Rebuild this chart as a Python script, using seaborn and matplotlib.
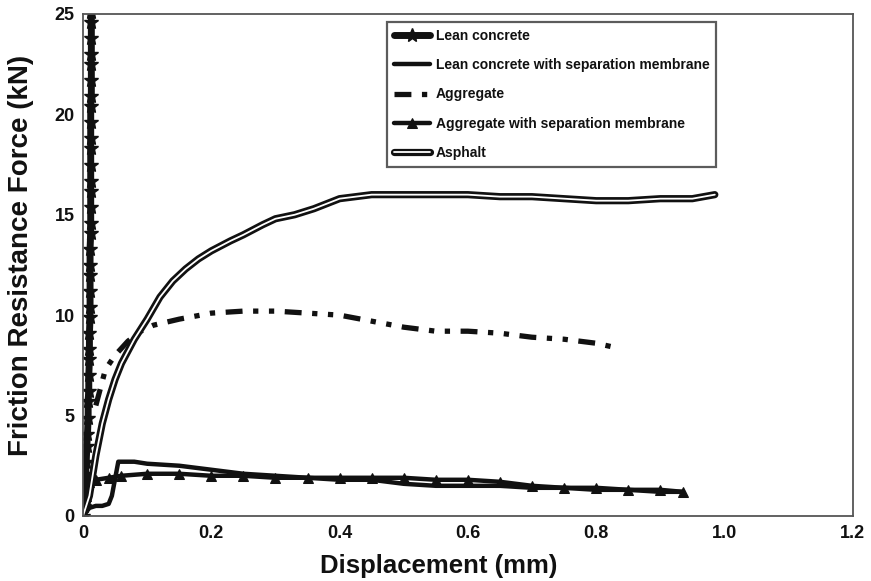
import matplotlib
matplotlib.use("Agg")
import matplotlib.pyplot as plt
import matplotlib.patheffects as pe
import seaborn as sns

# Displacement (mm) / friction resistance force (kN) for each interface
lean_x = [0.000, 0.001, 0.002, 0.003, 0.004, 0.005, 0.006, 0.007, 0.008, 0.008,
          0.009, 0.009, 0.010, 0.010, 0.010, 0.011, 0.011, 0.011, 0.011, 0.011,
          0.011, 0.012, 0.012, 0.012, 0.012, 0.012, 0.012, 0.012, 0.012, 0.012,
          0.012, 0.013, 0.013, 0.013, 0.013, 0.013, 0.013, 0.013, 0.013, 0.013]
lean_y = [0.0, 0.5, 1.0, 1.4, 2.1, 2.7, 3.5, 4.1, 4.9, 5.7, 6.2, 7.0, 7.8, 8.3,
          9.1, 9.9, 10.4, 11.2, 12.0, 12.5, 13.3, 14.1, 14.6, 15.4, 16.2, 16.7,
          17.5, 18.3, 18.8, 19.6, 20.4, 20.9, 21.7, 22.5, 23.0, 23.8, 24.6, 25.1,
          25.9, 26.7]

lean_mem_x = [0.000, 0.005, 0.010, 0.020, 0.030, 0.040, 0.045, 0.055, 0.080,
              0.100, 0.150, 0.200, 0.250, 0.300, 0.350, 0.400, 0.450, 0.500,
              0.550, 0.600, 0.650, 0.700, 0.750, 0.800, 0.850, 0.900, 0.935]
lean_mem_y = [0.0, 0.2, 0.4, 0.5, 0.5, 0.6, 1.0, 2.7, 2.7, 2.6, 2.5, 2.3, 2.1,
              2.0, 1.9, 1.8, 1.8, 1.6, 1.5, 1.5, 1.5, 1.4, 1.4, 1.3, 1.3, 1.2, 1.2]

agg_x = [0.020, 0.035, 0.050, 0.070, 0.090, 0.110, 0.150, 0.200, 0.250, 0.300,
         0.350, 0.400, 0.450, 0.500, 0.550, 0.600, 0.650, 0.700, 0.750, 0.800,
         0.828]
agg_y = [5.5, 7.3, 8.0, 8.7, 9.2, 9.5, 9.8, 10.1, 10.2, 10.2, 10.1, 10.0, 9.7,
         9.4, 9.2, 9.2, 9.1, 8.9, 8.8, 8.6, 8.4]

agg_mem_x = [0.000, 0.005, 0.010, 0.020, 0.040, 0.060, 0.100, 0.150, 0.200,
             0.250, 0.300, 0.350, 0.400, 0.450, 0.500, 0.550, 0.600, 0.650,
             0.700, 0.750, 0.800, 0.850, 0.900, 0.935]
agg_mem_y = [0.0, 1.0, 1.7, 1.8, 1.9, 2.0, 2.1, 2.1, 2.0, 2.0, 1.9, 1.9, 1.9,
             1.9, 1.9, 1.8, 1.8, 1.7, 1.5, 1.4, 1.4, 1.3, 1.3, 1.2]

asph_x = [0.000, 0.010, 0.020, 0.030, 0.040, 0.050, 0.060, 0.080, 0.100, 0.120,
          0.140, 0.160, 0.180, 0.200, 0.230, 0.250, 0.280, 0.300, 0.330, 0.360,
          0.400, 0.450, 0.500, 0.550, 0.600, 0.650, 0.700, 0.750, 0.800, 0.850,
          0.900, 0.950, 0.985]
asph_y = [0.0, 1.0, 3.0, 4.6, 5.8, 6.8, 7.6, 8.8, 9.8, 10.9, 11.7, 12.3, 12.8,
          13.2, 13.7, 14.0, 14.5, 14.8, 15.0, 15.3, 15.8, 16.0, 16.0, 16.0, 16.0,
          15.9, 15.9, 15.8, 15.7, 15.7, 15.8, 15.8, 16.0]

labels = ["Lean concrete", "Lean concrete with separation membrane", "Aggregate",
          "Aggregate with separation membrane", "Asphalt"]
x_ticks = [0, 0.2, 0.4, 0.6, 0.8, 1.0, 1.2]
x_tick_labels = ["0", "0.2", "0.4", "0.6", "0.8", "1.0", "1.2"]
y_ticks = [0, 5, 10, 15, 20, 25]

sns.set_style("white")
plt.rcParams["font.family"] = ["Liberation Sans", "DejaVu Sans"]
plt.rcParams["font.weight"] = "bold"

fig = plt.figure(figsize=(8.71, 5.81), dpi=100)
ax = fig.add_axes([0.0953, 0.112, 0.979 - 0.0953, 0.976 - 0.112])

ink = "#111111"
sns.lineplot(x=lean_x, y=lean_y, ax=ax, estimator=None, sort=False, color=ink,
             lw=5, marker="*", markersize=10, markeredgecolor=ink,
             markeredgewidth=1, label=labels[0])
sns.lineplot(x=lean_mem_x, y=lean_mem_y, ax=ax, estimator=None, sort=False,
             color=ink, lw=3.2, label=labels[1])
sns.lineplot(x=agg_x, y=agg_y, ax=ax, estimator=None, sort=False, color=ink,
             lw=3.8, linestyle=(0, (3.2, 2.0, 1.0, 2.0, 1.0, 2.0)), label=labels[2])
sns.lineplot(x=agg_mem_x, y=agg_mem_y, ax=ax, estimator=None, sort=False,
             color=ink, lw=3.2, marker="^", markersize=7, markeredgecolor=ink,
             label=labels[3])
sns.lineplot(x=asph_x, y=asph_y, ax=ax, estimator=None, sort=False, color="white",
             lw=1.3, label=labels[4],
             path_effects=[pe.Stroke(linewidth=5.2, foreground=ink), pe.Normal()])

ax.set_xlim(0, 1.2)
ax.set_ylim(0, 25)
ax.set_xticks(x_ticks)
ax.set_xticklabels(x_tick_labels)
ax.set_yticks(y_ticks)
ax.tick_params(axis="both", labelsize=13, width=1, color="#444444", pad=4,
               labelcolor=ink)
ax.tick_params(axis="x", direction="inout", length=5)
ax.tick_params(axis="y", length=0, pad=6)
for t in ax.get_xticklabels() + ax.get_yticklabels():
    t.set_fontweight("bold")
for s in ax.spines.values():
    s.set_visible(True)
    s.set_color("#555555")
    s.set_linewidth(1.3)

ax.set_xlabel("Displacement (mm)", fontsize=18.5, fontweight="bold", color=ink)
ax.set_ylabel("Friction Resistance Force (kN)", fontsize=20, fontweight="bold",
              color=ink)
ax.xaxis.set_label_coords(0.462, -0.075)
ax.yaxis.set_label_coords(-0.064, 0.518)

leg = ax.legend(loc="upper right", bbox_to_anchor=(0.823, 0.984), borderaxespad=0,
                fancybox=False, frameon=True, edgecolor="#333333",
                handlelength=2.6, handletextpad=0.4, labelspacing=1.1,
                borderpad=0.5, prop={"weight": "bold", "size": 10})
leg.get_frame().set_linewidth(1.6)
for t in leg.get_texts():
    t.set_color(ink)

fig.savefig("out.png", dpi=100)
